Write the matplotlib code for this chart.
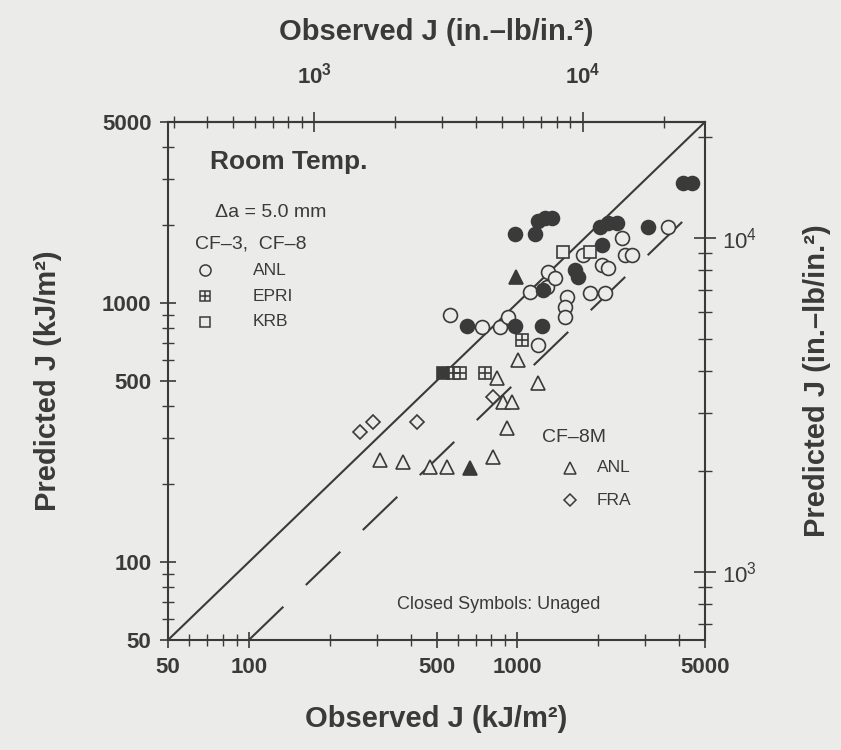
import numpy as np
import matplotlib
matplotlib.use('Agg')
import matplotlib.pyplot as plt
from matplotlib.ticker import FixedLocator, NullFormatter, LogLocator

plt.rcParams['font.family'] = ['Liberation Sans', 'DejaVu Sans']
plt.rcParams['mathtext.fontset'] = 'custom'
plt.rcParams['mathtext.rm'] = 'Liberation Sans'
plt.rcParams['mathtext.bf'] = 'Liberation Sans:bold'

ink = '#3a3a3a'
paper = '#ebebe9'

# observed / predicted J at 5 mm crack extension, kJ/m^2
# CF-3, CF-8 : ANL aged (open circles)
anl_obs = [561, 739, 862, 924, 1194, 1290, 1300, 1756, 1865, 2121, 2067, 2177,
           2454, 2517, 2673, 3640, 1531, 1505, 1505, 1382, 1115]
anl_pred = [899, 808, 808, 883, 689, 1154, 1320, 1533, 1093, 1093, 1402, 1366,
            1783, 1533, 1533, 1966, 1055, 965, 883, 1249, 1105]
# CF-3, CF-8 : ANL unaged (closed circles)
anl_u_obs = [649, 980, 1236, 980, 1164, 1194, 1268, 1346, 2032, 2177, 2350,
             2067, 3066, 4140, 4472, 1640, 1683, 1250]
anl_u_pred = [815, 815, 815, 1848, 1848, 2075, 2129, 2129, 1966, 2037, 2037,
              1675, 1966, 2909, 2909, 1341, 1260, 1120]
# EPRI
epri_obs = [576, 612, 758, 1041]
epri_pred = [537, 537, 537, 720]
epri_u_obs = [529]
epri_u_pred = [537]
# KRB
krb_obs = [1479, 1865]
krb_pred = [1574, 1574]
# CF-8M : ANL aged / unaged
m_anl_obs = [308, 375, 473, 547, 812, 915, 885, 956, 840, 1006, 1194]
m_anl_pred = [248, 243, 233, 233, 254, 329, 415, 415, 513, 603, 491]
m_anl_u_obs = [666, 988]
m_anl_u_pred = [231, 1260]
# CF-8M : FRA
fra_obs = [259, 290, 423, 812]
fra_pred = [318, 347, 347, 434]

diag = [50, 5000]
lower = [100, 4400]

fig = plt.figure(figsize=(8.41, 7.5), dpi=100, facecolor=paper)
ax = fig.add_axes([0.1998, 0.1467, 0.6385, 0.6907], facecolor=paper)
ax.set_xscale('log')
ax.set_yscale('log')
ax.set_xlim(50, 5000)
ax.set_ylim(50, 5000)

ax.plot(diag, diag, color=ink, lw=1.5)
ax.plot(lower, [v / 2 for v in lower], color=ink, lw=1.5, dashes=(23, 15))

ms = 10
mew = 1.2
ax.plot(anl_obs, anl_pred, 'o', ms=ms, mfc=paper, mec=ink, mew=mew)
ax.plot(anl_u_obs, anl_u_pred, 'o', ms=ms, mfc=ink, mec=ink, mew=mew)
ax.plot(epri_obs, epri_pred, 's', ms=8.5, mfc=paper, mec=ink, mew=mew)
ax.plot(epri_obs, epri_pred, '+', ms=8.5, mec=ink, mew=mew)
ax.plot(epri_u_obs, epri_u_pred, 's', ms=8.5, mfc=ink, mec=ink, mew=mew)
ax.plot(krb_obs, krb_pred, 's', ms=9, mfc=paper, mec=ink, mew=mew)
ax.plot(m_anl_obs, m_anl_pred, '^', ms=9.5, mfc=paper, mec=ink, mew=mew)
ax.plot(m_anl_u_obs, m_anl_u_pred, '^', ms=9.5, mfc=ink, mec=ink, mew=mew)
ax.plot(fra_obs, fra_pred, 'D', ms=7, mfc=paper, mec=ink, mew=mew)

# ticks
maj = [50, 100, 500, 1000, 5000]
ax.xaxis.set_major_locator(FixedLocator(maj))
ax.yaxis.set_major_locator(FixedLocator(maj))
ax.set_xticklabels([str(v) for v in maj])
ax.set_yticklabels([str(v) for v in maj])
ax.xaxis.set_minor_locator(LogLocator(subs=np.arange(2, 10)))
ax.yaxis.set_minor_locator(LogLocator(subs=np.arange(2, 10)))
ax.xaxis.set_minor_formatter(NullFormatter())
ax.yaxis.set_minor_formatter(NullFormatter())
for a in ['x', 'y']:
    ax.tick_params(axis=a, which='major', direction='inout', length=12, width=1.2,
                   colors=ink, labelsize=16, pad=6)
    ax.tick_params(axis=a, which='minor', direction='inout', length=8, width=1.0,
                   colors=ink)
for lab in ax.get_xticklabels() + ax.get_yticklabels():
    lab.set_fontweight('bold')
for s in ax.spines.values():
    s.set_color(ink)
    s.set_linewidth(1.5)

ax.set_xlabel('Observed J (kJ/m²)', fontsize=21, fontweight='bold', color=ink, labelpad=20)
ax.set_ylabel('Predicted J (kJ/m²)', fontsize=21, fontweight='bold', color=ink, labelpad=29)

# top axis in in.-lb/in.^2
k = 5.71
top = ax.secondary_xaxis('top', functions=(lambda x: x * k, lambda x: x / k))
top.xaxis.set_major_locator(FixedLocator([1e3, 1e4]))
top.set_xticklabels([r'$\mathbf{10^3}$', r'$\mathbf{10^4}$'])
top.xaxis.set_minor_locator(LogLocator(subs=np.arange(2, 10)))
top.xaxis.set_minor_formatter(NullFormatter())
top.tick_params(which='major', direction='inout', length=14, width=1.2, colors=ink,
                labelsize=16, pad=17)
top.tick_params(which='minor', direction='inout', length=9, width=1.0, colors=ink)
top.spines['top'].set_color(ink)
top.spines['top'].set_linewidth(1.5)
top.set_xlabel('Observed J (in.–lb/in.²)', fontsize=21, fontweight='bold', color=ink,
               labelpad=16)

# right axis in in.-lb/in.^2
rax = ax.twinx()
rax.set_yscale('log')
rax.set_ylim(626, 22250)
rax.yaxis.set_major_locator(FixedLocator([1e3, 1e4]))
rax.set_yticklabels([r'$\mathregular{10^3}$', r'$\mathregular{10^4}$'])
rax.yaxis.set_minor_locator(LogLocator(subs=np.arange(2, 10)))
rax.yaxis.set_minor_formatter(NullFormatter())
rax.tick_params(which='major', direction='inout', length=16, width=1.2, colors=ink,
                labelsize=16, pad=4)
rax.tick_params(which='minor', direction='inout', length=10, width=1.0, colors=ink)
for s in rax.spines.values():
    s.set_visible(False)
rax.set_ylabel('Predicted J (in.–lb/in.²)', fontsize=21, fontweight='bold', color=ink,
               labelpad=33)

# annotations
tr = ax.transAxes
ax.text(0.078, 0.923, 'Room Temp.', transform=tr, fontsize=19, fontweight='bold',
        color=ink, va='center')
ax.text(0.087, 0.826, 'Δa = 5.0 mm', transform=tr, fontsize=14, color=ink, va='center')
ax.text(0.050, 0.764, 'CF–3,  CF–8', transform=tr, fontsize=14, color=ink, va='center')
ax.plot(0.069, 0.714, 'o', transform=tr, ms=8, mfc=paper, mec=ink, mew=1.1)
ax.text(0.158, 0.714, 'ANL', transform=tr, fontsize=12.5, color=ink, va='center')
ax.plot(0.069, 0.664, 's', transform=tr, ms=7, mfc=paper, mec=ink, mew=1.1)
ax.plot(0.069, 0.664, '+', transform=tr, ms=7, mec=ink, mew=1.1)
ax.text(0.158, 0.664, 'EPRI', transform=tr, fontsize=12.5, color=ink, va='center')
ax.plot(0.069, 0.614, 's', transform=tr, ms=7, mfc=paper, mec=ink, mew=1.1)
ax.text(0.158, 0.614, 'KRB', transform=tr, fontsize=12.5, color=ink, va='center')

ax.text(0.696, 0.390, 'CF–8M', transform=tr, fontsize=14, color=ink, va='center')
ax.plot(0.749, 0.332, '^', transform=tr, ms=8, mfc=paper, mec=ink, mew=1.1)
ax.text(0.799, 0.332, 'ANL', transform=tr, fontsize=12.5, color=ink, va='center')
ax.plot(0.749, 0.270, 'D', transform=tr, ms=6, mfc=paper, mec=ink, mew=1.1)
ax.text(0.799, 0.270, 'FRA', transform=tr, fontsize=12.5, color=ink, va='center')

ax.text(0.615, 0.068, 'Closed Symbols: Unaged', transform=tr, fontsize=13, color=ink,
        va='center', ha='center')

fig.savefig('out.png', dpi=100, facecolor=paper)
